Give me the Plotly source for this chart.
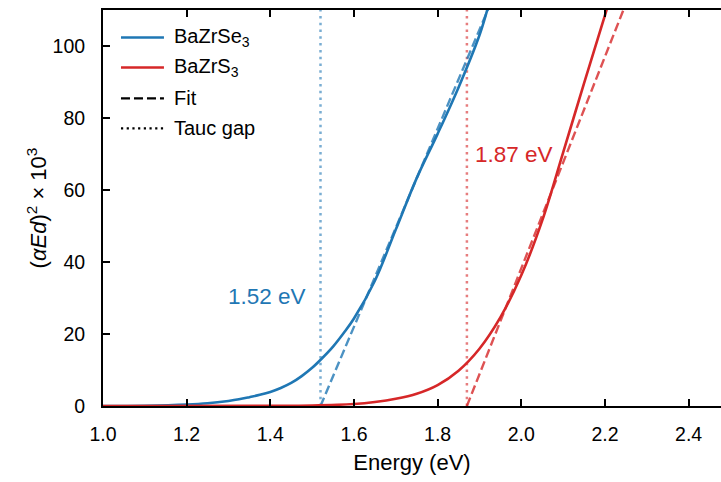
import plotly.graph_objects as go

# Photon energy grid (eV) and Tauc-plot ordinates (alpha*E*d)^2 x 10^3
energy_se = [1.00, 1.10, 1.20, 1.25, 1.30, 1.325, 1.35, 1.375, 1.40, 1.425, 1.45,
             1.475, 1.50, 1.525, 1.55, 1.575, 1.60, 1.65, 1.70, 1.75, 1.80,
             1.85, 1.90, 1.92, 1.95]
tauc_se = [0.0, 0.08, 0.4, 0.75, 1.4, 1.85, 2.45, 3.1, 3.9, 5.0, 6.4,
           8.3, 10.6, 13.4, 16.5, 20.2, 24.3, 34.8, 49.0, 63.3, 75.6,
           88.5, 103.0, 110.5, 122.0]

energy_s = [1.00, 1.40, 1.50, 1.60, 1.65, 1.70, 1.75, 1.80, 1.85, 1.90, 1.95,
            2.00, 2.05, 2.10, 2.15, 2.20, 2.23]
tauc_s = [0.0, 0.05, 0.15, 0.55, 1.1, 2.0, 3.4, 5.8, 9.8, 15.9, 24.6,
          36.3, 51.5, 70.4, 89.6, 108.5, 120.0]

# Linear fits y = slope * (E - Eg)
gap_se, slope_se = 1.52, 275.0
gap_s, slope_s = 1.87, 294.0
fit_top = 115.0

gap_labels = ["1.52 eV", "1.87 eV"]
legend_names = ["BaZrSe<sub>3</sub>", "BaZrS<sub>3</sub>", "Fit", "Tauc gap"]

x_ticks = [1.0, 1.2, 1.4, 1.6, 1.8, 2.0, 2.2, 2.4]
y_ticks = [0, 20, 40, 60, 80, 100]

BLUE = "#1f77b4"
RED = "#d62728"
BLUE_FIT = "rgba(31,119,180,0.8)"
RED_FIT = "rgba(214,39,40,0.8)"
BLUE_GAP = "rgba(31,119,180,0.6)"
RED_GAP = "rgba(214,39,40,0.6)"
FONT = "Liberation Sans, Arial, sans-serif"
DASH = "9px,4px"
DOT = "2.5px,4.3px"

fig = go.Figure()

# Tauc gap markers
for g, c in [(gap_se, BLUE_GAP), (gap_s, RED_GAP)]:
    fig.add_trace(go.Scatter(x=[g, g], y=[0, 110], mode="lines",
                             line=dict(color=c, width=2.5, dash=DOT),
                             showlegend=False, hoverinfo="skip"))

# Fitted straight lines
for g, k, c in [(gap_se, slope_se, BLUE_FIT), (gap_s, slope_s, RED_FIT)]:
    fig.add_trace(go.Scatter(x=[g, g + fit_top / k], y=[0, fit_top], mode="lines",
                             line=dict(color=c, width=2.4, dash=DASH),
                             showlegend=False))

# Measured curves
fig.add_trace(go.Scatter(x=energy_se, y=tauc_se, mode="lines", line_shape="spline",
                         line=dict(color=BLUE, width=2.6), showlegend=False))
fig.add_trace(go.Scatter(x=energy_s, y=tauc_s, mode="lines", line_shape="spline",
                         line=dict(color=RED, width=2.6), showlegend=False))

# Gap value labels
fig.add_annotation(x=1.491, y=30.5, text=gap_labels[0], showarrow=False,
                   xanchor="right", yanchor="middle",
                   font=dict(family=FONT, size=22.5, color=BLUE))
fig.add_annotation(x=1.885, y=70, text=gap_labels[1], showarrow=False,
                   xanchor="left", yanchor="middle",
                   font=dict(family=FONT, size=22.5, color=RED))

# Legend drawn in paper coordinates
def px_x(p):
    return (p - 102.5) / 618.5

def px_y(p):
    return (406 - p) / 396.5

legend_styles = [
    dict(color=BLUE, width=2.6, dash="solid"),
    dict(color=RED, width=2.6, dash="solid"),
    dict(color="black", width=2.4, dash=DASH),
    dict(color="black", width=2.2, dash="2.2px,3.5px"),
]
legend_rows = [37, 67, 98, 128]
for name, style, row in zip(legend_names, legend_styles, legend_rows):
    fig.add_shape(type="line", xref="paper", yref="paper",
                  x0=px_x(120.5), x1=px_x(163.5), y0=px_y(row), y1=px_y(row),
                  line=style)
    fig.add_annotation(xref="paper", yref="paper", x=px_x(172), y=px_y(row),
                       text=name, showarrow=False, xanchor="left", yanchor="middle",
                       font=dict(family=FONT, size=20, color="black"))

fig.update_layout(
    width=721, height=482,
    margin=dict(l=102.5, r=0, t=9.5, b=76),
    paper_bgcolor="white", plot_bgcolor="white",
    font=dict(family=FONT, color="black"),
    showlegend=False,
)
fig.update_xaxes(
    range=[1.0, 2.4775], tickvals=x_ticks, tickformat=".1f",
    ticks="inside", ticklen=7, tickwidth=1.5, tickcolor="black",
    showline=True, linecolor="black", linewidth=2, mirror="ticks",
    showgrid=False, zeroline=False,
    tickfont=dict(family=FONT, size=19.5), ticklabelstandoff=10,
    title=dict(text="Energy (eV)", font=dict(family=FONT, size=22), standoff=10),
)
fig.update_yaxes(
    range=[0, 110], tickvals=y_ticks,
    ticks="inside", ticklen=7, tickwidth=1.5, tickcolor="black",
    showline=True, linecolor="black", linewidth=2,
    showgrid=False, zeroline=False,
    tickfont=dict(family=FONT, size=19.5), ticklabelstandoff=12,
    title=dict(text="(<i>αEd</i>)<sup>2</sup> × 10<sup>3</sup>",
               font=dict(family=FONT, size=22), standoff=0),
)

fig.write_html("out.html")
